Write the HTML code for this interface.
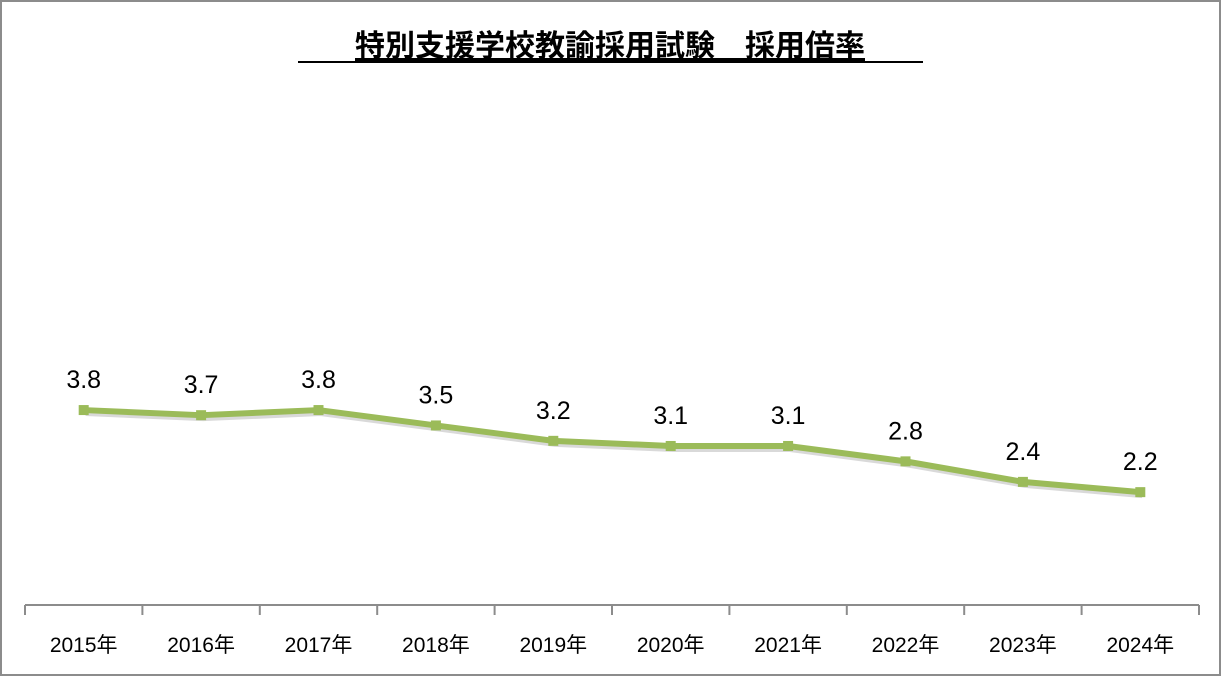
<!DOCTYPE html>
<html><head><meta charset="utf-8"><style>
html,body{margin:0;padding:0;background:#fff;}
svg{display:block;font-family:"Liberation Sans","Noto Sans CJK JP",sans-serif;}
</style></head><body>
<svg id="chart" width="1222" height="677" viewBox="0 0 1222 677" xmlns="http://www.w3.org/2000/svg">
<rect x="1" y="1" width="1219" height="674" fill="#fff" stroke="#8c8c8c" stroke-width="2"/>
<text x="610" y="56" text-anchor="middle" font-size="30" font-weight="bold" fill="#000" text-decoration="underline">特別支援学校教諭採用試験　採用倍率</text>
<line x1="298" y1="62" x2="923" y2="62" stroke="#000" stroke-width="2"/>
<g id="axis"></g>
<g id="series"></g>
</svg>
<script>
const categories = ["2015年","2016年","2017年","2018年","2019年","2020年","2021年","2022年","2023年","2024年"];
const values = [3.8,3.7,3.8,3.5,3.2,3.1,3.1,2.8,2.4,2.2];
const valueLabels = ["3.8","3.7","3.8","3.5","3.2","3.1","3.1","2.8","2.4","2.2"];

const ns = "http://www.w3.org/2000/svg";
const plotLeft = 25, plotRight = 1199, axisY = 605, pxPerUnit = 51.3;
const step = (plotRight - plotLeft) / categories.length;
function xScale(i){ return plotLeft + step * (i + 0.5); }
function yScale(v){ return axisY - v * pxPerUnit; }
function mk(tag, attrs){ const e = document.createElementNS(ns, tag); for (const k in attrs) e.setAttribute(k, attrs[k]); return e; }

const axis = document.getElementById('axis');
const base = mk('line', {x1: plotLeft, y1: axisY, x2: plotRight, y2: axisY, stroke: '#8c8c8c', 'stroke-width': 2});


axis.appendChild(base);
for (let i = 0; i <= categories.length; i++) {
  const x = plotLeft + step * i;
  const t = mk('line', {x1: x, y1: axisY, x2: x, y2: axisY + 10, stroke: '#8c8c8c', 'stroke-width': 2});
  
  
  axis.appendChild(t);
}
categories.forEach((c, i) => {
  const t = mk('text', {x: xScale(i), y: 652, 'text-anchor': 'middle', 'font-size': 21, fill: '#000'});
  t.textContent = c;
  
  
  axis.appendChild(t);
});

const series = document.getElementById('series');
const pts = values.map((v, i) => xScale(i) + ',' + yScale(v)).join(' ');
const shadow = mk('polyline', {points: pts, fill: 'none', stroke: 'rgba(0,0,0,0.15)', 'stroke-width': 6, transform: 'translate(2,3)', 'stroke-linejoin': 'round'});


series.appendChild(shadow);
const line = mk('polyline', {points: pts, fill: 'none', stroke: '#9bbb59', 'stroke-width': 6, 'stroke-linejoin': 'round'});


series.appendChild(line);
values.forEach((v, i) => {
  const m = mk('rect', {x: xScale(i) - 5, y: yScale(v) - 5, width: 10, height: 10, fill: '#9bbb59'});
  
  
  series.appendChild(m);
  const t = mk('text', {x: xScale(i), y: yScale(v) - 22, 'text-anchor': 'middle', 'font-size': 25, fill: '#000'});
  t.textContent = valueLabels[i];
  
  
  series.appendChild(t);
});
</script>
</body></html>
